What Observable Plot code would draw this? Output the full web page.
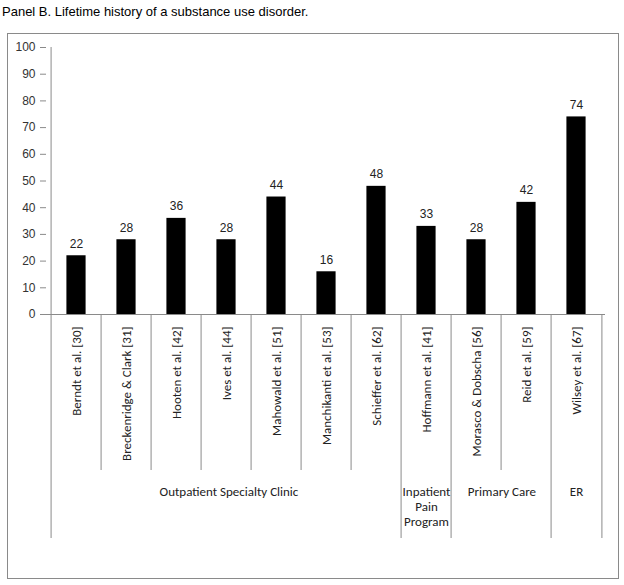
<!DOCTYPE html>
<html>
<head>
<meta charset="utf-8">
<script src="https://cdn.jsdelivr.net/npm/d3@7"></script>
<script src="https://cdn.jsdelivr.net/npm/@observablehq/plot@0.6"></script>
<style>
  html, body { margin: 0; padding: 0; background: #fff; }
  #wrap { position: relative; width: 624px; height: 585px; overflow: hidden; }
  #title { position: absolute; left: 2px; top: 4px; font: 13px/15px "Liberation Sans", Arial, sans-serif; color: #000; white-space: nowrap; }
  #border { position: absolute; left: 7px; top: 33px; width: 612px; height: 546px; box-sizing: border-box; border: 1px solid #8a8a8a; }
  #chart { position: absolute; left: 0; top: 33px; }
</style>
</head>
<body>
<div id="wrap">
  <div id="title">Panel B. Lifetime history of a substance use disorder.</div>
  <div id="border"></div>
  <div id="chart"></div>
</div>
<script>
const categories = [
  "Berndt et al. [30]",
  "Breckenridge & Clark [31]",
  "Hooten et al. [42]",
  "Ives et al. [44]",
  "Mahowald et al. [51]",
  "Manchikanti et al. [53]",
  "Schieffer et al. [62]",
  "Hoffmann et al. [41]",
  "Morasco & Dobscha [56]",
  "Reid et al. [59]",
  "Wilsey et al. [67]"
];
const values = [22, 28, 36, 28, 44, 16, 48, 33, 28, 42, 74];
const groupNames = ["Outpatient Specialty Clinic", "Inpatient\nPain\nProgram", "Primary Care", "ER"];
const groupSizes = [7, 1, 2, 1];
const yTicks = [0, 10, 20, 30, 40, 50, 60, 70, 80, 90, 100];

const data = categories.map((c, i) => ({category: c, value: values[i]}));

// layout
const W = 624, H = 545;
const mL = 46, mR = 19, mT = 14, mB = 264;
const bw = (W - mL - mR) / categories.length;
const frameH = H - mT - mB;

// group boundaries
const groupStarts = [];
{ let s = 0; for (const n of groupSizes) { groupStarts.push(s); s += n; } }
const longLeft = groupStarts.filter(i => i > 0).map(i => categories[i]);
const shortLeft = categories.filter((c, i) => i > 0 && !groupStarts.includes(i));
const groups = groupNames.map((g, k) => ({name: g, first: categories[groupStarts[k]], size: groupSizes[k]}));

const labelFont = "Carlito, Calibri, Lato, sans-serif";
const numFont = "'Liberation Sans', Arial, sans-serif";
const lineColor = "#8a8a8a";

const groupMarks = groups.map(g =>
  Plot.text([g], {
    x: "first", text: "name", frameAnchor: "bottom",
    dx: (g.size - 1) * bw / 2, dy: 171, lineAnchor: "top",
    fill: "#222", fontSize: 13, fontFamily: labelFont, lineHeight: 1.15
  })
);

const plot = Plot.plot({
  width: W, height: H,
  marginLeft: mL, marginRight: mR, marginTop: mT, marginBottom: mB,
  style: {background: "transparent", overflow: "visible"},
  x: {domain: categories, padding: 0, axis: null},
  y: {domain: [0, 100], axis: null},
  marks: [
    Plot.barY(data, {x: "category", y: "value", fill: "#000", insetLeft: (bw - 20) / 2, insetRight: (bw - 20) / 2}),
    Plot.ruleY([0], {stroke: lineColor}),
    Plot.ruleX([categories[0]], {dx: -bw / 2, stroke: lineColor, insetBottom: -224}),
    Plot.ruleX([categories[categories.length - 1]], {dx: bw / 2, stroke: lineColor, insetTop: frameH, insetBottom: -224}),
    Plot.ruleX(longLeft, {dx: -bw / 2, stroke: lineColor, insetTop: frameH, insetBottom: -224}),
    Plot.ruleX(shortLeft, {dx: -bw / 2, stroke: lineColor, insetTop: frameH, insetBottom: -156}),
    Plot.axisY({ticks: yTicks, tickSize: 6, tickPadding: 5, stroke: lineColor, fill: "#333", fontSize: 12, fontFamily: numFont, label: null}),
    Plot.text(data, {x: "category", y: "value", text: d => String(d.value), dy: -8, lineAnchor: "bottom", fill: "#222", fontSize: 12, fontFamily: numFont}),
    Plot.text(categories, {x: d => d, frameAnchor: "bottom", dy: 12, rotate: -90, textAnchor: "end", lineAnchor: "middle", fill: "#222", fontSize: 13, fontFamily: labelFont}),
    ...groupMarks
  ]
});
document.getElementById("chart").appendChild(plot);
</script>
</body>
</html>
